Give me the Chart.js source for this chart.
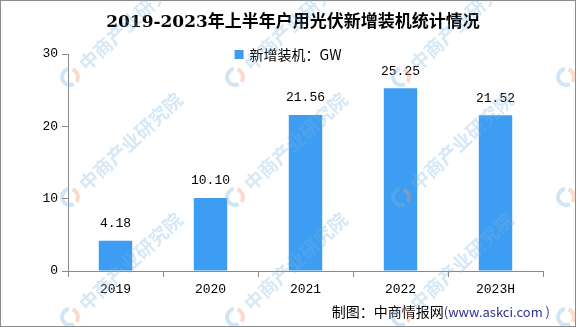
<!DOCTYPE html>
<html>
<head>
<meta charset="utf-8">
<title>户用光伏新增装机</title>
<script src="https://cdn.jsdelivr.net/npm/chart.js@4.4.0/dist/chart.umd.min.js"></script>
<style>
    html, body { margin: 0; padding: 0; background: #fff; }
    #wrap { width: 576px; height: 327px; }
</style>
</head>
<body>
<div id="wrap"><canvas id="pvChart" width="576" height="327"></canvas></div>
<script>
// 数据
var years = ['2019', '2020', '2021', '2022', '2023H'];
var newCapacity = [4.18, 10.10, 21.56, 25.25, 21.52];
var yTicks = [0, 10, 20, 30];

var titleText = '2019-2023年上半年户用光伏新增装机统计情况';
var seriesName = '新增装机：GW';
var sourceText = '制图：中商情报网';
var sourceUrl = '(www.askci.com )';
var markText = '中商产业研究院';

var numFont = "'Liberation Mono', 'DejaVu Sans Mono', monospace";
var cjkFont = "'Noto Sans CJK SC', sans-serif";
var titleFont = "'DejaVu Serif', 'Noto Sans CJK SC', serif";
var barColor = '#3d9df3';
var axisColor = '#8a8a8a';

// 水印
var markPlugin = {
    id: 'marks',
    afterDraw: function(chart) {
        var ctx = chart.ctx;
        var xs = [70, 235, 401, 566];
        var ys = [77, 197, 317];
        ctx.save();
        for (var i = 0; i < xs.length; i++) {
            for (var j = 0; j < ys.length; j++) {
                var x = xs[i], y = ys[j];
                ctx.lineWidth = 4;
                ctx.strokeStyle = 'rgba(120,180,225,0.35)';
                ctx.beginPath();
                ctx.arc(x, y, 8, Math.PI * 0.35, Math.PI * 1.45);
                ctx.stroke();
                ctx.strokeStyle = 'rgba(240,150,110,0.35)';
                ctx.beginPath();
                ctx.arc(x, y, 8, Math.PI * 1.6, Math.PI * 2.2);
                ctx.stroke();

                ctx.save();
                ctx.translate(x + 12, y - 10);
                ctx.rotate(-43 * Math.PI / 180);
                ctx.font = 'bold 19px ' + cjkFont;
                ctx.fillStyle = 'rgba(120,180,225,0.3)';
                ctx.textBaseline = 'middle';
                ctx.textAlign = 'left';
                ctx.fillText(markText, 0, 0);
                ctx.restore();
            }
        }
        ctx.restore();
    }
};

// 柱顶数值、图例、来源和边框
var extrasPlugin = {
    id: 'extras',
    afterDatasetsDraw: function(chart) {
        var ctx = chart.ctx;
        var meta = chart.getDatasetMeta(0);
        ctx.save();
        ctx.font = '13px ' + numFont;
        ctx.fillStyle = '#000';
        ctx.textAlign = 'center';
        ctx.textBaseline = 'middle';
        meta.data.forEach(function(bar, i) {
            ctx.fillText(newCapacity[i].toFixed(2), bar.x, bar.y - 17);
        });
        ctx.restore();
    },
    afterDraw: function(chart) {
        var ctx = chart.ctx;
        var w = chart.width;
        ctx.save();

        // 图例
        ctx.font = '14px ' + cjkFont;
        var tw = ctx.measureText(seriesName).width;
        var lx = w / 2 - (tw + 15) / 2;
        ctx.fillStyle = barColor;
        ctx.fillRect(lx, 50, 9, 9);
        ctx.fillStyle = '#000';
        ctx.textAlign = 'left';
        ctx.textBaseline = 'middle';
        ctx.fillText(seriesName, lx + 15, 55);

        // 来源
        ctx.font = '13px ' + cjkFont;
        ctx.fillStyle = '#2e3192';
        ctx.textAlign = 'right';
        ctx.fillText(sourceUrl, 550, 312);
        var uw = ctx.measureText(sourceUrl).width;
        ctx.font = '14px ' + cjkFont;
        ctx.fillStyle = '#000';
        ctx.fillText(sourceText, 550 - uw, 312);

        // 边框
        ctx.strokeStyle = '#8c8c8c';
        ctx.lineWidth = 1;
        ctx.strokeRect(0.5, 0.5, w - 1, chart.height - 1);
        ctx.restore();
    }
};

var ctx = document.getElementById('pvChart').getContext('2d');
var pvChart = new Chart(ctx, {
    type: 'bar',
    data: {
        labels: years,
        datasets: [{
            label: seriesName,
            data: newCapacity,
            backgroundColor: barColor,
            borderWidth: 0,
            categoryPercentage: 0.8,
            barPercentage: 0.44
        }]
    },
    options: {
        responsive: false,
        animation: false,
        layout: {
            padding: { left: 43, right: 33, top: 0, bottom: 26 }
        },
        plugins: {
            legend: { display: false },
            tooltip: { enabled: false },
            title: {
                display: true,
                text: titleText,
                color: '#000',
                font: { family: titleFont, size: 17, weight: 'bold' },
                padding: { top: 12, bottom: 21.6 }
            }
        },
        scales: {
            x: {
                grid: {
                    display: true,
                    drawOnChartArea: false,
                    offset: true,
                    color: axisColor,
                    tickLength: 6
                },
                border: { color: axisColor },
                ticks: {
                    color: '#000',
                    font: { family: numFont, size: 13 },
                    padding: 5,
                    maxRotation: 0
                },
                afterFit: function(scale) { scale.height = 30; }
            },
            y: {
                min: 0,
                max: 30,
                afterBuildTicks: function(scale) {
                    scale.ticks = yTicks.map(function(v) { return { value: v }; });
                },
                grid: {
                    drawOnChartArea: false,
                    color: axisColor,
                    tickLength: 6
                },
                border: { color: axisColor },
                ticks: {
                    color: '#000',
                    font: { family: numFont, size: 13 },
                    padding: 4
                },
                afterFit: function(scale) { scale.width = 25; }
            }
        }
    },
    plugins: [extrasPlugin, markPlugin]
});
</script>
</body>
</html>
